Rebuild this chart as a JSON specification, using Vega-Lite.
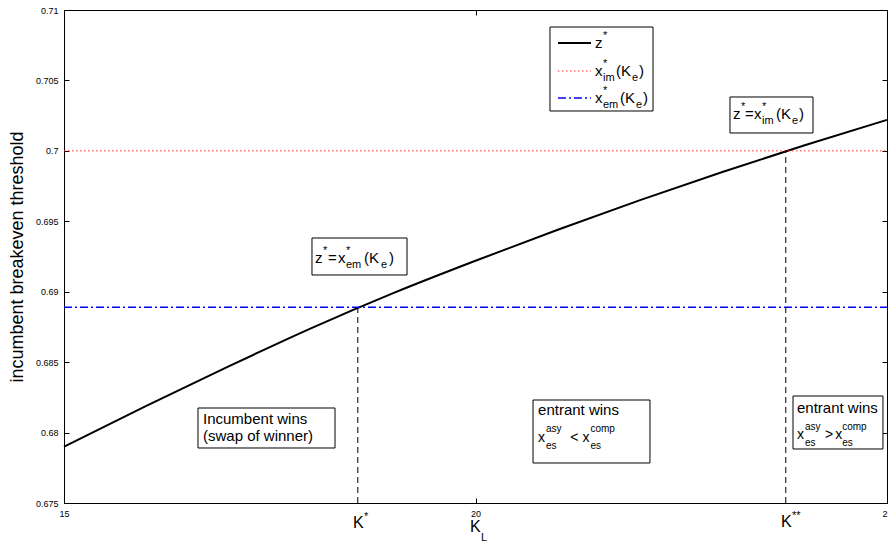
{
  "$schema": "https://vega.github.io/schema/vega-lite/v6.json",
  "width": 823,
  "height": 493,
  "autosize": "none",
  "padding": {"left": 64, "top": 10, "right": 1, "bottom": 41},
  "background": "white",
  "config": {
    "view": {"stroke": "black", "strokeWidth": 1},
    "axis": {"domainColor": "black", "tickColor": "black", "labelColor": "black", "labelFont": "Liberation Sans", "labelFontSize": 9, "tickSize": -5, "grid": false, "titleFont": "Liberation Sans", "titleColor": "black", "titleFontWeight": "normal"}
  },
  "datasets": {
    "curve": [
      {"x": 15, "y": 0.6790}, {"x": 16, "y": 0.6819}, {"x": 17, "y": 0.6847}, {"x": 18, "y": 0.6874},
      {"x": 19, "y": 0.6899}, {"x": 20, "y": 0.6922}, {"x": 21, "y": 0.6944}, {"x": 22, "y": 0.6965},
      {"x": 23, "y": 0.6985}, {"x": 24, "y": 0.7004}, {"x": 25, "y": 0.7022}
    ],
    "xim": [{"x": 15, "x2": 25, "y": 0.7}],
    "xem": [{"x": 15, "x2": 25, "y": 0.6889}],
    "vlines": [{"x": 18.57, "y": 0.675, "y2": 0.6889}, {"x": 23.77, "y": 0.675, "y2": 0.7}],
    "boxes": [
      {"name": "legend", "x": 20.905, "x2": 22.157, "y": 0.708793, "y2": 0.70283},
      {"name": "A", "x": 23.092, "x2": 24.101, "y": 0.703824, "y2": 0.701268},
      {"name": "B", "x": 18.013, "x2": 19.168, "y": 0.693813, "y2": 0.691187},
      {"name": "C", "x": 16.628, "x2": 18.293, "y": 0.681744, "y2": 0.678905},
      {"name": "D", "x": 20.699, "x2": 22.12, "y": 0.682312, "y2": 0.67784},
      {"name": "E", "x": 23.858, "x2": 24.951, "y": 0.682596, "y2": 0.678834}
    ],
    "leg_z": [{"x": 21.002, "x2": 21.403, "y": 0.707657}],
    "leg_im": [{"x": 21.002, "x2": 21.403, "y": 0.705669}],
    "leg_em": [{"x": 21.002, "x2": 21.403, "y": 0.703753}],
    "big": [
      {"x": 21.452, "y": 0.707302, "t": "z"},
      {"x": 21.452, "y": 0.705314, "t": "x"}, {"x": 21.707, "y": 0.705314, "t": "(K"}, {"x": 21.987, "y": 0.705314, "t": ")"},
      {"x": 21.452, "y": 0.703398, "t": "x"}, {"x": 21.756, "y": 0.703398, "t": "(K"}, {"x": 22.035, "y": 0.703398, "t": ")"},
      {"x": 23.129, "y": 0.702262, "t": "z"}, {"x": 23.275, "y": 0.702262, "t": "="}, {"x": 23.384, "y": 0.702262, "t": "x"}, {"x": 23.651, "y": 0.702262, "t": "(K"}, {"x": 23.931, "y": 0.702262, "t": ")"},
      {"x": 18.050, "y": 0.692039, "t": "z"}, {"x": 18.208, "y": 0.692039, "t": "="}, {"x": 18.329, "y": 0.692039, "t": "x"}, {"x": 18.645, "y": 0.692039, "t": "(K"}, {"x": 18.949, "y": 0.692039, "t": ")"},
      {"x": 16.689, "y": 0.680609, "t": "Incumbent wins"}, {"x": 16.689, "y": 0.679402, "t": "(swap of winner)"},
      {"x": 20.760, "y": 0.681247, "t": "entrant wins"},
      {"x": 23.906, "y": 0.681389, "t": "entrant wins"}
    ],
    "small": [
      {"x": 21.549, "y": 0.707941, "t": "*"},
      {"x": 21.549, "y": 0.705953, "t": "*"}, {"x": 21.549, "y": 0.704959, "t": "im"}, {"x": 21.902, "y": 0.704959, "t": "e"},
      {"x": 21.549, "y": 0.704037, "t": "*"}, {"x": 21.549, "y": 0.703043, "t": "em"}, {"x": 21.950, "y": 0.703043, "t": "e"},
      {"x": 23.226, "y": 0.702901, "t": "*"}, {"x": 23.481, "y": 0.702901, "t": "*"}, {"x": 23.481, "y": 0.701907, "t": "im"}, {"x": 23.846, "y": 0.701907, "t": "e"},
      {"x": 18.147, "y": 0.692678, "t": "*"}, {"x": 18.426, "y": 0.692678, "t": "*"}, {"x": 18.426, "y": 0.691684, "t": "em"}, {"x": 18.852, "y": 0.691684, "t": "e"}
    ],
    "fmain": [
      {"x": 20.760, "y": 0.679331, "t": "x"}, {"x": 21.150, "y": 0.679331, "t": "<"}, {"x": 21.300, "y": 0.679331, "t": "x"},
      {"x": 23.906, "y": 0.679544, "t": "x"}, {"x": 24.247, "y": 0.679544, "t": ">"}, {"x": 24.370, "y": 0.679544, "t": "x"}
    ],
    "fsmall": [
      {"x": 20.857, "y": 0.680041, "t": "asy"}, {"x": 20.857, "y": 0.678834, "t": "es"}, {"x": 21.397, "y": 0.680041, "t": "comp"}, {"x": 21.397, "y": 0.678834, "t": "es"},
      {"x": 24.004, "y": 0.680182, "t": "asy"}, {"x": 24.004, "y": 0.679047, "t": "es"}, {"x": 24.455, "y": 0.680182, "t": "comp"}, {"x": 24.455, "y": 0.679047, "t": "es"}
    ],
    "klab": [
      {"x": 18.512, "y": 0.673225, "t": "K"}, {"x": 19.933, "y": 0.672941, "t": "K"}, {"x": 23.712, "y": 0.673296, "t": "K"}
    ],
    "ksmall": [
      {"x": 18.645, "y": 0.673793, "t": "*"}, {"x": 20.067, "y": 0.672302, "t": "L"}, {"x": 23.846, "y": 0.673864, "t": "**"}
    ]
  },
  "encoding": {
    "x": {"field": "x", "type": "quantitative", "scale": {"domain": [15, 25], "nice": false, "zero": false}, "axis": null},
    "y": {"field": "y", "type": "quantitative", "scale": {"domain": [0.675, 0.71], "nice": false, "zero": false}, "axis": null}
  },
  "layer": [
    {
      "data": {"name": "curve"},
      "mark": {"type": "line", "color": "black", "strokeWidth": 2, "interpolate": "monotone"},
      "encoding": {
        "x": {"field": "x", "type": "quantitative", "scale": {"domain": [15, 25], "nice": false, "zero": false},
              "axis": {"values": [15, 20, 25], "title": null, "labelPadding": 11, "format": "d", "labelFlush": false}},
        "y": {"field": "y", "type": "quantitative", "scale": {"domain": [0.675, 0.71], "nice": false, "zero": false},
              "axis": {"values": [0.675, 0.68, 0.685, 0.69, 0.695, 0.7, 0.705, 0.71], "format": "~g", "labelPadding": 11, "labelFlush": false,
                       "title": "incumbent breakeven threshold", "titleFontSize": 18, "titleX": -47, "titleY": 246.5, "titleAngle": 270, "titleAlign": "center", "titleBaseline": "middle"}}
      }
    },
    {
      "data": {"name": "curve"},
      "mark": {"type": "point", "opacity": 0},
      "encoding": {
        "x": {"field": "x", "type": "quantitative", "scale": {"domain": [15, 25], "nice": false, "zero": false},
              "axis": {"orient": "top", "values": [15, 20, 25], "labels": false, "title": null}},
        "y": {"field": "y", "type": "quantitative", "scale": {"domain": [0.675, 0.71], "nice": false, "zero": false},
              "axis": {"orient": "right", "values": [0.675, 0.68, 0.685, 0.69, 0.695, 0.7, 0.705, 0.71], "labels": false, "title": null}}
      }
    },
    {
      "data": {"name": "xim"},
      "mark": {"type": "rule", "color": "#ff3333", "strokeWidth": 1, "strokeDash": [1.5, 2.5]},
      "encoding": {"x2": {"field": "x2"}}
    },
    {
      "data": {"name": "xem"},
      "mark": {"type": "rule", "color": "#0000ff", "strokeWidth": 1.5, "strokeDash": [8, 3, 2, 3]},
      "encoding": {"x2": {"field": "x2"}}
    },
    {
      "data": {"name": "vlines"},
      "mark": {"type": "rule", "color": "black", "strokeWidth": 1, "strokeDash": [6, 4]},
      "encoding": {"y2": {"field": "y2"}}
    },
    {
      "data": {"name": "boxes"},
      "mark": {"type": "rect", "fill": "white", "stroke": "black", "strokeWidth": 1},
      "encoding": {"x2": {"field": "x2"}, "y2": {"field": "y2"}}
    },
    {
      "data": {"name": "leg_z"},
      "mark": {"type": "rule", "color": "black", "strokeWidth": 2},
      "encoding": {"x2": {"field": "x2"}}
    },
    {
      "data": {"name": "leg_im"},
      "mark": {"type": "rule", "color": "#ff3333", "strokeWidth": 1, "strokeDash": [1.5, 2.5]},
      "encoding": {"x2": {"field": "x2"}}
    },
    {
      "data": {"name": "leg_em"},
      "mark": {"type": "rule", "color": "#0000ff", "strokeWidth": 1.5, "strokeDash": [8, 3, 2, 3]},
      "encoding": {"x2": {"field": "x2"}}
    },
    {
      "data": {"name": "big"},
      "mark": {"type": "text", "align": "left", "baseline": "alphabetic", "font": "Liberation Sans", "fontSize": 15, "color": "black"},
      "encoding": {"text": {"field": "t"}}
    },
    {
      "data": {"name": "small"},
      "mark": {"type": "text", "align": "left", "baseline": "alphabetic", "font": "Liberation Sans", "fontSize": 11, "color": "black"},
      "encoding": {"text": {"field": "t"}}
    },
    {
      "data": {"name": "fmain"},
      "mark": {"type": "text", "align": "left", "baseline": "alphabetic", "font": "Liberation Sans", "fontSize": 14, "color": "black"},
      "encoding": {"text": {"field": "t"}}
    },
    {
      "data": {"name": "fsmall"},
      "mark": {"type": "text", "align": "left", "baseline": "alphabetic", "font": "Liberation Sans", "fontSize": 10, "color": "black"},
      "encoding": {"text": {"field": "t"}}
    },
    {
      "data": {"name": "klab"},
      "mark": {"type": "text", "align": "left", "baseline": "alphabetic", "font": "Liberation Sans", "fontSize": 16, "color": "black"},
      "encoding": {"text": {"field": "t"}}
    },
    {
      "data": {"name": "ksmall"},
      "mark": {"type": "text", "align": "left", "baseline": "alphabetic", "font": "Liberation Sans", "fontSize": 11, "color": "black"},
      "encoding": {"text": {"field": "t"}}
    }
  ],
  "resolve": {"axis": {"x": "independent", "y": "independent"}}
}
